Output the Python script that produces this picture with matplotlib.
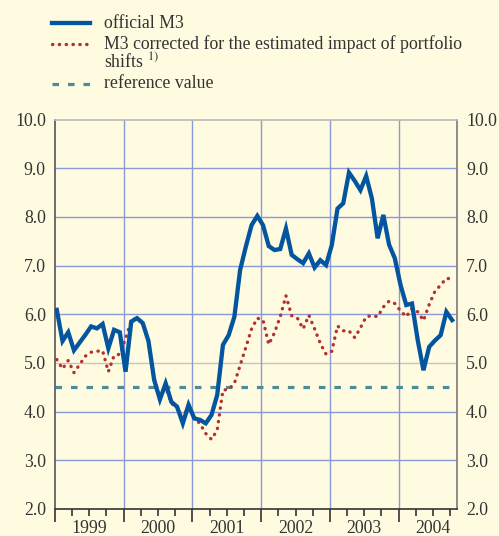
import numpy as np
import matplotlib
matplotlib.use("Agg")
import matplotlib.pyplot as plt
from matplotlib.lines import Line2D
import matplotlib.transforms as mtransforms

# monthly annual growth rates, Jan 1999 - Oct 2004
official_m3 = [6.09, 5.45, 5.63, 5.26, 5.42, 5.58, 5.75, 5.71, 5.80, 5.30, 5.68, 5.63,
               4.82, 5.85, 5.92, 5.82, 5.45, 4.65, 4.25, 4.58, 4.20, 4.10, 3.76, 4.14,
               3.86, 3.83, 3.76, 3.93, 4.34, 5.37, 5.57, 5.95, 6.91, 7.39, 7.83, 8.02,
               7.83, 7.40, 7.32, 7.34, 7.76, 7.22, 7.13, 7.05, 7.25, 6.96, 7.11, 7.01,
               7.42, 8.17, 8.28, 8.91, 8.74, 8.55, 8.84, 8.38, 7.56, 8.04, 7.43, 7.15,
               6.60, 6.19, 6.22, 5.47, 4.85, 5.33, 5.46, 5.57, 6.05, 5.88]
corrected_m3 = [5.07, 4.88, 5.05, 4.80, 4.97, 5.14, 5.22, 5.24, 5.25, 4.82, 5.15, 5.18,
                5.50, 5.87, 5.93, 5.82, 5.45, 4.68, 4.30, 4.50, 4.17, 4.07, 3.84, 4.14,
                3.88, 3.75, 3.55, 3.43, 3.62, 4.44, 4.46, 4.58, 4.95, 5.32, 5.70, 5.92,
                5.88, 5.38, 5.62, 5.95, 6.38, 5.97, 5.92, 5.70, 5.98, 5.70, 5.40, 5.18,
                5.24, 5.76, 5.66, 5.66, 5.52, 5.72, 5.95, 5.97, 5.95, 6.15, 6.27, 6.22,
                6.07, 5.95, 6.12, 6.05, 5.87, 6.20, 6.47, 6.60, 6.74, 6.72]
reference_value = 4.5
years = [1999, 2000, 2001, 2002, 2003, 2004]
yticks = [2.0, 3.0, 4.0, 5.0, 6.0, 7.0, 8.0, 9.0, 10.0]

bg = "#fffbe1"
blue = "#0455a0"
red = "#b3302e"
teal = "#4b8c9c"
grid_blue = "#8a9ad8"
txt = "#333333"
fs = 12.8

plt.rcParams["font.family"] = ["Liberation Serif", "DejaVu Serif"]
plt.rcParams["mathtext.fontset"] = "stix"

fig = plt.figure(figsize=(4.99, 5.36), dpi=100, facecolor=bg)
ax = fig.add_axes([0.110, 0.0504, 0.806, 0.7266], facecolor=bg)

x = 1999 + (np.arange(len(official_m3)) + 0.33) / 12

# grid
for yv in yticks[1:-1]:
    ax.axhline(yv, color="#c4c4c8" if yv == 5.0 else grid_blue, lw=1.0, zorder=1)
for yr in years[1:]:
    ax.axvline(yr, color=grid_blue, lw=1.0, zorder=1)

ref_style = (0, (2.05, 2.8))
dot_style = (0, (0.1, 1.95))
ax.axhline(reference_value, color=teal, lw=2.3, linestyle=ref_style, zorder=2)
ax.plot(x, corrected_m3, color=red, lw=2.4, linestyle=dot_style,
        dash_capstyle="round", zorder=3)
ax.plot(x, official_m3, color=blue, lw=3.1, solid_joinstyle="miter", zorder=4)

ax.set_xlim(1999, 2004.85)
ax.set_ylim(2, 10)

ax.spines["top"].set_color("#b8b8bc")
ax.spines["right"].set_color("#7a7a7a")
ax.spines["left"].set_color("#555555")
ax.spines["bottom"].set_color("#333333")
for s in ax.spines.values():
    s.set_linewidth(1.2)

ax.set_yticks(yticks)
ax.set_yticklabels([f"{v:.1f}" for v in yticks], fontsize=fs, color=txt)
ax.tick_params(axis="y", length=0, pad=6.5, labelright=True, right=False)

ax.set_xticks(years)
ax.set_xticklabels([])
ax.set_xticks([y + q for y in years for q in (0.25, 0.5, 0.75)], minor=True)
ax.tick_params(axis="x", which="major", direction="out", length=9, width=1.2, color=txt)
ax.tick_params(axis="x", which="minor", direction="out", length=5, width=1.2, color=txt)

trans = mtransforms.blended_transform_factory(ax.transData, ax.transAxes)
for yr in years:
    ax.text(yr + 0.5, -0.027, str(yr), transform=trans, ha="center", va="top",
            fontsize=fs, color=txt)

# legend
def fx(px):
    return px / 499

def fy(py):
    return 1 - py / 536

fig.add_artist(Line2D([fx(52), fx(90)], [fy(23), fy(23)], color=blue, lw=3.1))
fig.add_artist(Line2D([fx(52), fx(90)], [fy(44), fy(44)], color=red, lw=2.4,
                      linestyle=dot_style, dash_capstyle="round"))
fig.add_artist(Line2D([fx(52), fx(92)], [fy(84), fy(84)], color=teal, lw=2.3,
                      linestyle=ref_style))
fig.text(fx(104), fy(23), "official M3", va="center", fontsize=fs, color=txt)
fig.text(fx(104), fy(44), "M3 corrected for the estimated impact of portfolio",
         va="center", fontsize=fs, color=txt)
fig.text(fx(104), fy(62), r"shifts $^{1)}$", va="center", fontsize=fs, color=txt)
fig.text(fx(104), fy(84), "reference value", va="center", fontsize=fs, color=txt)

fig.savefig("out.png", dpi=100, facecolor=bg)
